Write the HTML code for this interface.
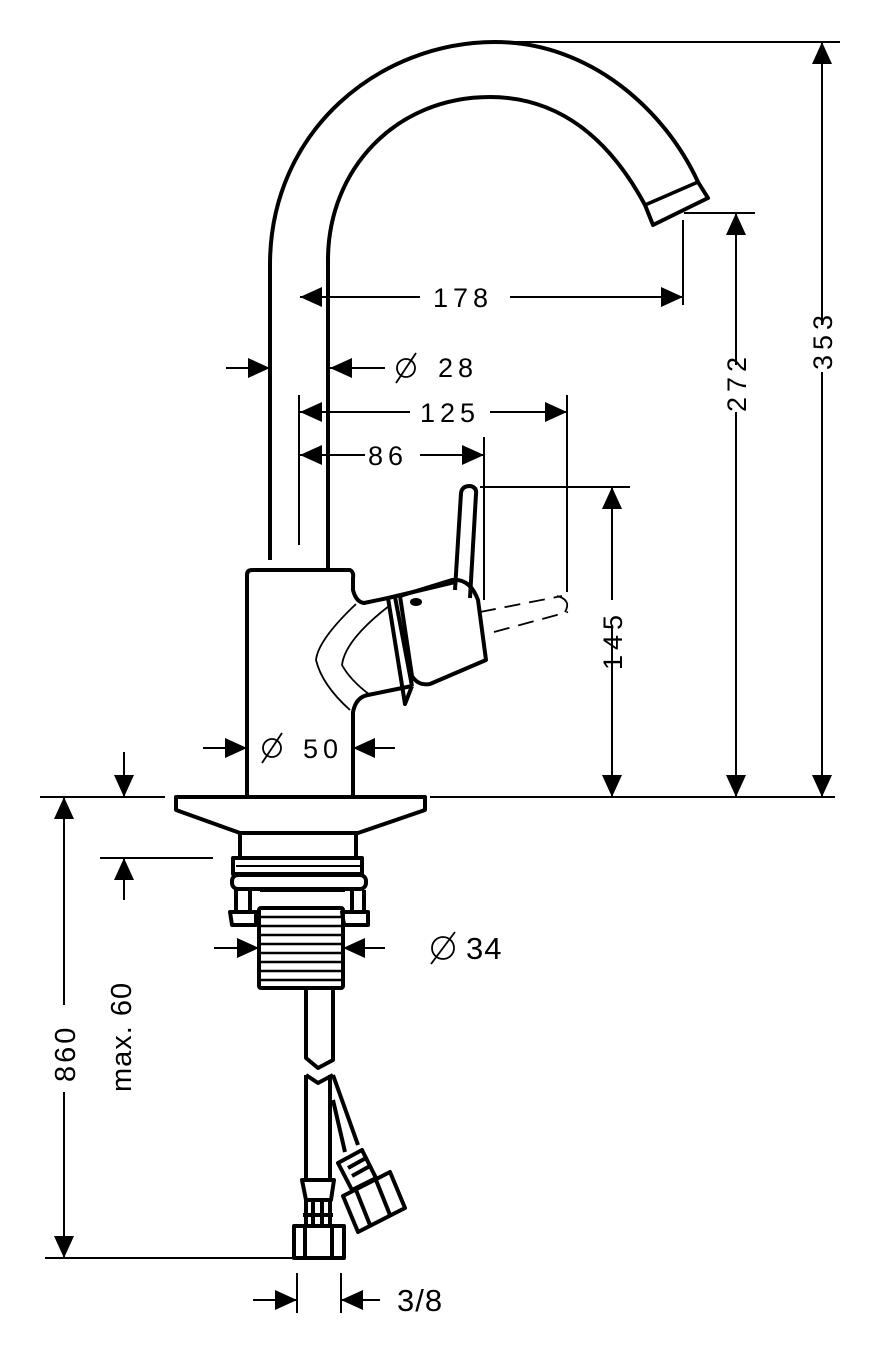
<!DOCTYPE html>
<html><head><meta charset="utf-8"><style>html,body{margin:0;padding:0;background:#fff}svg{display:block}</style></head><body>
<svg width="876" height="1353" viewBox="0 0 876 1353" xmlns="http://www.w3.org/2000/svg" font-family="Liberation Sans, sans-serif">
<g fill="none" stroke="#000" stroke-width="4" stroke-linejoin="round">
<!-- spout -->
<path d="M270,560 L270,265 C270,130 380,42 495,42 C590,42 665,110 698,182 L708,198 L653,225 L645,205 C610,140 560,97 490,97 C395,97 328,170 328,260 L328,570"/>
<path d="M645,205 L698,182" stroke-width="3.5"/>
<!-- body -->
<path d="M247,797 L247,575 Q247,570 252,570 L350,570 Q354,572 353,578 L353,590 Q356,602 364,603 L388,598"/>
<path d="M353,797 L353,712 Q356,697 368,695 L412,686"/>
<path d="M243,797 L357,797"/>
<!-- cartridge -->
<path d="M388,598 L405,704 L412,686 M388,598 L455,582"/>
<path d="M395,597 L412,686"/>
<path d="M400,596 L452,580 Q470,578 478,600 L486,660 L430,684 Q418,686 412,676 Z"/>
<path d="M356,604 Q318,640 316,660 Q322,685 350,710" stroke-width="1.8"/>
<path d="M389,606 Q345,640 342,665 Q350,680 370,695" stroke-width="1.8"/>
<!-- lever -->
<path d="M455,590 L461,493 Q462,486 470,486 Q477,487 476,494 L470,598"/>
<ellipse cx="416" cy="602" rx="6" ry="4" fill="#000" stroke="none"/>
<g stroke-width="1.8" stroke-dasharray="16,9"><path d="M480,612 L562,596 M494,632 L568,612"/></g>
<path d="M557,596 Q572,600 565,612" stroke-width="1.8"/>
<!-- base plate -->
<path d="M176,797 L425,797 L425,810 L358,833 L240,833 L176,810 Z"/>
<path d="M240,833 L240,858 M356,833 L356,858"/>
<path d="M233,858 L362,858 L362,874 L233,874 Z"/>
<path d="M236,866 L360,866" stroke-width="2"/>
<rect x="232" y="875" width="134" height="14" rx="6"/>
<path d="M236,890 L236,912 M250,890 L250,912 M352,890 L352,912 M364,890 L364,912"/>
<path d="M230,912 L256,912 L256,925 L232,925 Z M342,912 L368,912 L368,925 L344,925 Z"/>
<path d="M260,890 L345,890"/>
<rect x="259" y="908" width="84" height="80" rx="2"/>
<g stroke-width="2.5"><path d="M261,917 H341 M261,926 H341 M261,935 H341 M261,944 H341 M261,953 H341 M261,962 H341 M261,971 H341 M261,980 H341"/></g>
<!-- hose -->
<path d="M306,988 L306,1058 L318,1068 L333,1060 L333,988"/>
<path d="M306,1075 L318,1083 L333,1075 M306,1075 L306,1180 M330,1075 L330,1180"/>
<path d="M333,1075 L358,1145 M333,1100 L345,1152"/>
<path d="M302,1180 L334,1180 L331,1200 L306,1200 Z M306,1200 L306,1225 M330,1200 L330,1225 M313,1200 L313,1225 M322,1200 L322,1225 M303,1215 L333,1215"/>
<rect x="294" y="1226" width="50" height="32"/>
<path d="M305,1226 L305,1258 M332,1226 L332,1258"/>
<path d="M338,1163 L362,1150 L376,1178 L352,1190 Z M348,1168 L366,1158 M352,1176 L370,1166"/>
<path d="M343,1196 L390,1172 L405,1208 L358,1232 Z M356,1190 L370,1225 M376,1180 L390,1215"/>
</g>
<!-- dimension lines -->
<g stroke="#000" stroke-width="2" fill="none">
<path d="M480,42 L840,42 M684,213 L755,213 M430,797 L835,797 M40,797 L165,797 M100,858 L213,858 M45,1258 L295,1258"/>
<path d="M822,42 L822,325 M822,372 L822,797"/>
<path d="M736,213 L736,365 M736,412 L736,797"/>
<path d="M612,487 L612,600 M612,625 L612,797 M480,487 L630,487"/>
<path d="M683,220 L683,305 M567,395 L567,592 M484,437 L484,600 M299,395 L299,545"/>
<path d="M300,297 L420,297 M510,297 L683,297"/>
<path d="M300,412 L410,412 M490,412 L567,412"/>
<path d="M300,455 L365,455 M420,455 L484,455"/>
<path d="M226,368 L270,368 M330,368 L385,368"/>
<path d="M203,748 L247,748 M353,748 L395,748"/>
<path d="M214,948 L259,948 M343,948 L385,948"/>
<path d="M64,797 L64,1005 M64,1092 L64,1258"/>
<path d="M124,752 L124,797 M124,858 L124,900"/>
<path d="M297,1273 L297,1313 M341,1273 L341,1313 M253,1300 L297,1300 M341,1300 L380,1300"/>
</g>
<g fill="#000">
<path d="M822,42 l-10,22 h20z M822,797 l-10,-22 h20z"/>
<path d="M736,213 l-10,22 h20z M736,797 l-10,-22 h20z"/>
<path d="M612,487 l-10,22 h20z M612,797 l-10,-22 h20z"/>
<path d="M300,297 l22,-10 v20z M683,297 l-22,-10 v20z"/>
<path d="M300,412 l22,-10 v20z M567,412 l-22,-10 v20z"/>
<path d="M300,455 l22,-10 v20z M484,455 l-22,-10 v20z"/>
<path d="M270,368 l-22,-10 v20z M330,368 l22,-10 v20z"/>
<path d="M247,748 l-22,-10 v20z M353,748 l22,-10 v20z"/>
<path d="M259,948 l-22,-10 v20z M343,948 l22,-10 v20z"/>
<path d="M64,797 l-10,22 h20z M64,1258 l-10,-22 h20z"/>
<path d="M124,797 l-10,-22 h20z M124,858 l-10,22 h20z"/>
<path d="M297,1300 l-22,-10 v20z M341,1300 l22,-10 v20z"/>
</g>
<g font-size="27" fill="#000" letter-spacing="5">
<text x="433" y="307">178</text>
<text x="438" y="377">28</text>
<text x="420" y="422">125</text>
<text x="368" y="465">86</text>
<text x="303" y="758">50</text>
<text x="466" y="959" letter-spacing="1" font-size="31">34</text>
<text x="397" y="1311" letter-spacing="1" font-size="31">3/8</text>
<text transform="translate(832,370) rotate(-90)">353</text>
<text transform="translate(746,412) rotate(-90)">272</text>
<text transform="translate(622,670) rotate(-90)">145</text>
<text transform="translate(75,1082) rotate(-90)" letter-spacing="3" font-size="29">860</text>
<text transform="translate(131,1092) rotate(-90)" letter-spacing="1" font-size="29">max. 60</text>
</g>
<g stroke="#000" stroke-width="1.8" fill="none">
<circle cx="406" cy="368" r="9"/><path d="M396,383 L416,353"/>
<circle cx="272" cy="748" r="9"/><path d="M262,763 L282,733"/>
<circle cx="443" cy="948" r="11"/><path d="M431,964 L455,932"/>
</g>
</svg>
</body></html>
